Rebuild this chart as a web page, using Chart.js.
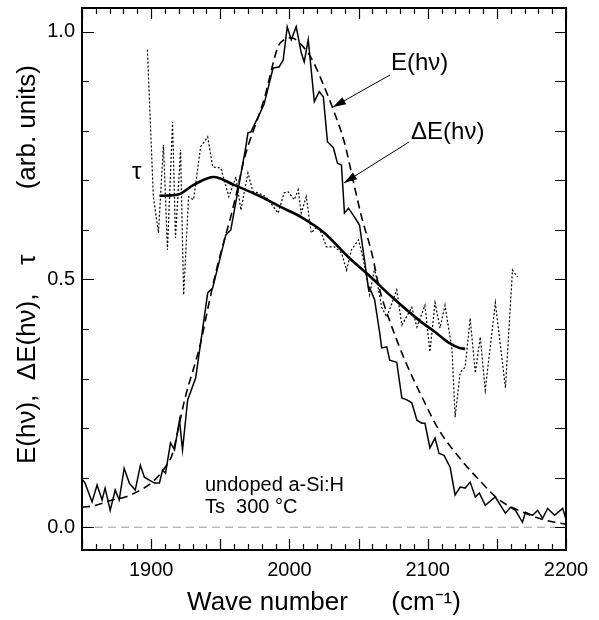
<!DOCTYPE html>
<html>
<head>
<meta charset="utf-8">
<script src="https://cdn.jsdelivr.net/npm/chart.js@4.4.1/dist/chart.umd.min.js"></script>
<style>
  html, body { margin: 0; padding: 0; background: #fff; }
  #wrap { width: 599px; height: 620px; }
</style>
</head>
<body>
<div id="wrap"><canvas id="chart" width="599" height="620"></canvas></div>
<script>
// measured E(hv), solid noisy curve
const eWave = [1850.7,1852.2,1857.3,1860.9,1864.5,1866.7,1870.4,1874.0,1876.9,1880.5,1884.2,1888.5,1892.2,1895.1,1898.7,1902.4,1906.0,1908.2,1910.4,1914.0,1916.9,1920.5,1922.7,1926.4,1932.2,1935.8,1940.9,1944.5,1954.0,1957.6,1963.5,1968.5,1970.0,1972.2,1981.6,1988.2,1992.5,1995.5,1998.4,2001.3,2004.9,2008.5,2010.7,2013.6,2018.0,2021.6,2024.5,2027.5,2031.8,2034.7,2037.6,2039.8,2042.7,2047.1,2050.7,2057.3,2058.0,2061.6,2065.3,2066.7,2070.4,2072.5,2077.6,2081.3,2084.9,2088.5,2092.2,2095.8,2098.0,2101.6,2105.3,2108.2,2111.8,2116.2,2119.8,2123.5,2127.1,2130.7,2134.4,2137.3,2141.6,2148.9,2156.2,2159.8,2163.5,2168.5,2170.7,2175.8,2179.5,2183.1,2186.7,2191.8,2197.6,2200];
const eMeasured = [0.095,0.089,0.051,0.085,0.055,0.079,0.034,0.075,0.055,0.119,0.089,0.075,0.125,0.101,0.095,0.089,0.089,0.115,0.109,0.170,0.156,0.216,0.156,0.257,0.301,0.372,0.473,0.483,0.590,0.600,0.691,0.768,0.796,0.798,0.853,0.927,0.929,0.943,1.010,0.984,1.010,0.958,0.939,0.984,0.859,0.879,0.869,0.778,0.766,0.735,0.731,0.634,0.644,0.626,0.610,0.479,0.483,0.459,0.392,0.362,0.364,0.337,0.333,0.261,0.257,0.251,0.216,0.210,0.210,0.160,0.180,0.149,0.145,0.121,0.065,0.081,0.079,0.091,0.061,0.069,0.044,0.061,0.028,0.040,0.034,0.010,0.030,0.024,0.034,0.018,0.038,0.024,0.038,0.016];

// fitted E(hv), dashed curve
const fitWave = [1850,1859.5,1871.8,1881.3,1892.2,1900.9,1909.6,1915.5,1920.5,1924.2,1935.8,1941.2,1947.0,1952.4,1957.9,1962.2,1967.1,1981.6,1991.8,1996.2,2001.3,2008.5,2015.8,2023.1,2031.8,2039.8,2047.1,2052.2,2059.5,2065.3,2071.8,2083.5,2095.8,2108.2,2122.7,2137.3,2151.8,2170.7,2185.3,2200];
const fitValues = [0.040,0.044,0.055,0.061,0.075,0.091,0.119,0.149,0.210,0.257,0.372,0.444,0.517,0.575,0.630,0.680,0.741,0.863,0.970,0.984,0.988,0.974,0.947,0.903,0.842,0.776,0.687,0.626,0.554,0.479,0.422,0.337,0.263,0.196,0.141,0.095,0.055,0.028,0.014,0.006];

// tau, dotted curve
const tauWave = [1897.3,1901.6,1905.3,1908.9,1911.8,1915.5,1917.6,1921.3,1923.5,1927.1,1930.7,1935.8,1940.9,1944.5,1950.4,1956.2,1961.3,1964.9,1970.0,1973.6,1977.3,1983.1,1991.8,1996.2,1999.1,2003.5,2006.4,2008.5,2012.2,2015.8,2019.5,2023.1,2026.7,2032.5,2037.6,2041.3,2044.9,2050.0,2053.6,2058.0,2061.6,2066.7,2070.4,2077.6,2081.3,2088.5,2092.2,2098.0,2101.6,2105.3,2108.9,2112.5,2117.6,2119.8,2123.5,2127.1,2130.7,2134.4,2138.0,2141.6,2148.9,2156.2,2161.3,2164.9];
const tauValues = [0.964,0.667,0.594,0.772,0.560,0.818,0.584,0.762,0.469,0.667,0.661,0.768,0.788,0.727,0.725,0.667,0.707,0.640,0.715,0.677,0.675,0.667,0.634,0.675,0.677,0.661,0.681,0.634,0.667,0.594,0.606,0.594,0.566,0.566,0.554,0.519,0.560,0.580,0.539,0.469,0.523,0.444,0.424,0.479,0.408,0.444,0.404,0.448,0.354,0.453,0.402,0.448,0.358,0.222,0.313,0.323,0.422,0.311,0.384,0.277,0.453,0.281,0.519,0.505];

// delta E(hv), thick smooth curve
const dEWave = [1906.0,1919.1,1930.7,1945.3,1959.8,1979.5,1994.0,2008.5,2025.3,2042.7,2057.3,2074.0,2093.6,2105.3,2115.5,2122.7,2127.1];
const dEValues = [0.669,0.671,0.691,0.707,0.691,0.667,0.646,0.626,0.594,0.545,0.509,0.465,0.418,0.394,0.372,0.362,0.360];

const zeroWave = [1850, 2200];
const zeroValues = [0, 0];

const xTicks = [1900, 2000, 2100, 2200];
const yTicks = [0, 0.5, 1.0];

function pts(xs, ys) {
  return xs.map((x, i) => ({x: x, y: ys[i]}));
}

const FONT = "'Liberation Sans', Arial, Helvetica, sans-serif";

// frame, inward ticks, labels and arrows
const decor = {
  id: 'decor',
  afterDraw(chart) {
    const ctx = chart.ctx;
    const a = chart.chartArea;
    const xs = chart.scales.x, ys = chart.scales.y;
    ctx.save();
    ctx.strokeStyle = '#000';
    ctx.lineWidth = 1.2;
    ctx.beginPath();
    for (let v = 1850; v <= 2200; v += 10) {
      const px = Math.round(xs.getPixelForValue(v)) + 0.5;
      const len = v % 50 === 0 ? 11 : 6;
      ctx.moveTo(px, a.bottom); ctx.lineTo(px, a.bottom - len);
      ctx.moveTo(px, a.top); ctx.lineTo(px, a.top + len);
    }
    for (let k = 0; k <= 10; k++) {
      const v = k / 10;
      const py = Math.round(ys.getPixelForValue(v)) + 0.5;
      const len = k % 5 === 0 ? 12 : 7;
      ctx.moveTo(a.left, py); ctx.lineTo(a.left + len, py);
      ctx.moveTo(a.right, py); ctx.lineTo(a.right - 11, py);
    }
    ctx.stroke();
    ctx.lineWidth = 2;
    ctx.strokeRect(a.left, a.top, a.right - a.left, a.bottom - a.top);

    ctx.fillStyle = '#000';
    ctx.textBaseline = 'middle';
    ctx.textAlign = 'left';
    ctx.font = '24px ' + FONT;
    ctx.fillText('E(h\u03bd)', 391, 63);
    ctx.fillText('\u0394E(h\u03bd)', 411, 132);
    ctx.fillText('\u03c4', 132, 172);
    ctx.font = '20px ' + FONT;
    ctx.fillText('undoped a-Si:H', 205, 485);
    ctx.fillText('Ts  300 \u00b0C', 205, 507);

    function arrow(x0, y0, x1, y1) {
      ctx.lineWidth = 1;
      ctx.beginPath();
      ctx.moveTo(x0, y0); ctx.lineTo(x1, y1);
      ctx.stroke();
      const ang = Math.atan2(y1 - y0, x1 - x0);
      const L = 13, W = 4;
      ctx.beginPath();
      ctx.moveTo(x1, y1);
      ctx.lineTo(x1 - L * Math.cos(ang) + W * Math.sin(ang), y1 - L * Math.sin(ang) - W * Math.cos(ang));
      ctx.lineTo(x1 - L * Math.cos(ang) - W * Math.sin(ang), y1 - L * Math.sin(ang) + W * Math.cos(ang));
      ctx.closePath();
      ctx.fill();
    }
    arrow(390, 75, xs.getPixelForValue(2031.5), ys.getPixelForValue(0.848));
    arrow(409, 142, xs.getPixelForValue(2039.5), ys.getPixelForValue(0.695));
    ctx.restore();
  }
};

const ctx = document.getElementById('chart').getContext('2d');
new Chart(ctx, {
  type: 'line',
  data: {
    datasets: [
      {
        label: 'zero',
        data: pts(zeroWave, zeroValues),
        borderColor: '#9a9a9a',
        borderWidth: 1,
        borderDash: [8, 5],
        pointRadius: 0
      },
      {
        label: 'E(hv) fit',
        data: pts(fitWave, fitValues),
        borderColor: '#000',
        borderWidth: 1.6,
        borderDash: [8, 5],
        pointRadius: 0,
        tension: 0.4,
        cubicInterpolationMode: 'monotone'
      },
      {
        label: 'E(hv)',
        data: pts(eWave, eMeasured),
        borderColor: '#000',
        borderWidth: 1.5,
        pointRadius: 0,
        tension: 0
      },
      {
        label: 'tau',
        data: pts(tauWave, tauValues),
        borderColor: '#000',
        borderWidth: 1.2,
        borderDash: [2, 2],
        pointRadius: 0,
        tension: 0
      },
      {
        label: 'dE(hv)',
        data: pts(dEWave, dEValues),
        borderColor: '#000',
        borderWidth: 2.6,
        pointRadius: 0,
        tension: 0.4,
        cubicInterpolationMode: 'monotone'
      }
    ]
  },
  options: {
    responsive: false,
    animation: false,
    events: [],
    layout: { padding: { top: 8, right: 33, left: 0, bottom: 0 } },
    plugins: { legend: { display: false }, tooltip: { enabled: false } },
    scales: {
      x: {
        type: 'linear',
        min: 1850,
        max: 2200,
        grid: { display: false, drawTicks: false },
        border: { display: false },
        afterBuildTicks: s => { s.ticks = xTicks.map(v => ({value: v})); },
        afterFit: s => { s.height = 70; s.paddingLeft = 0; s.paddingRight = 0; },
        ticks: { color: '#000', padding: 8, font: { family: FONT, size: 20 }, maxRotation: 0, callback: v => String(v) },
        title: {
          display: true,
          text: 'Wave number      (cm\u207b\u00b9)',
          color: '#000',
          font: { family: FONT, size: 26 },
          padding: { top: 0, bottom: 2 }
        }
      },
      y: {
        type: 'linear',
        min: -0.046,
        max: 1.048,
        grid: { display: false, drawTicks: false },
        border: { display: false },
        afterBuildTicks: s => { s.ticks = yTicks.map(v => ({value: v})); },
        afterFit: s => { s.width = 82; s.paddingTop = 0; s.paddingBottom = 0; },
        ticks: { color: '#000', padding: 7, font: { family: FONT, size: 20 }, callback: v => v.toFixed(1) },
        title: {
          display: true,
          text: '    E(h\u03bd),  \u0394E(h\u03bd),    \u03c4         (arb. units)',
          color: '#000',
          font: { family: FONT, size: 26 },
          padding: { top: 12, bottom: 0 }
        }
      }
    }
  },
  plugins: [decor]
});
</script>
</body>
</html>
